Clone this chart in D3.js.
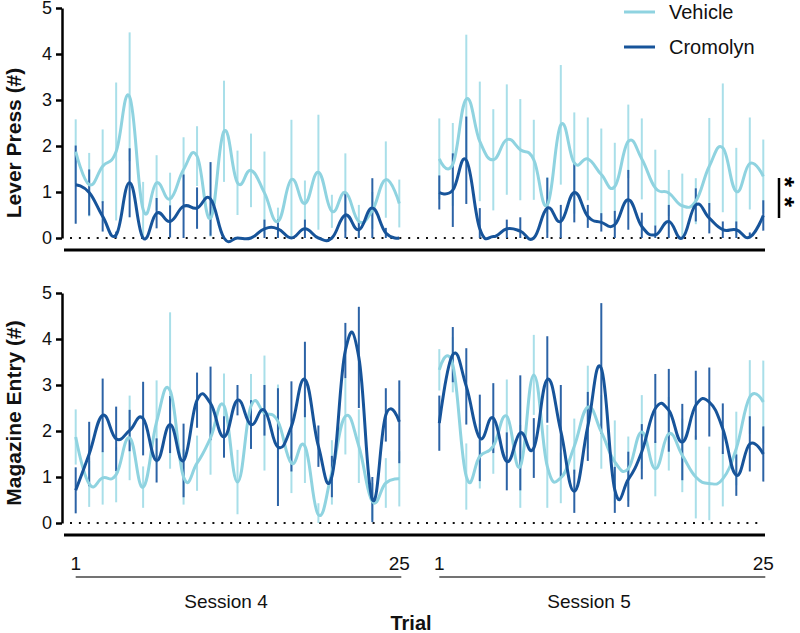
<!DOCTYPE html>
<html><head><meta charset="utf-8">
<script src="https://cdn.jsdelivr.net/npm/d3@7"></script>
<style>body{margin:0;background:#fff} text{font-family:Arial,"Liberation Sans",sans-serif}</style>
</head><body><svg id="c" width="800" height="633"></svg>
<script>
// ---------- data ----------
const trials = d3.range(1, 26);
const sessions = ["Session 4", "Session 5"];
const seriesNames = ["Vehicle", "Cromolyn"];
const yTicks = [0, 1, 2, 3, 4, 5];
const xTickLabels = [1, 25];
const panelTitles = ["Lever Press (#)", "Magazine Entry (#)"];
const xTitle = "Trial";
const sigLabel = "**";

// Lever press
const vehLP4    = [1.88,1.16,1.56,1.88,3.07,0.62,1.2,0.85,1.49,1.78,0.43,2.32,1.2,1.47,0.98,0.36,1.27,0.75,1.43,0.58,0.99,0.36,0.6,1.27,0.75];
const vehLP4err = [0.7,0.69,0.8,1.5,1.4,0.6,0.6,0.57,0.7,0.65,0.4,1.1,0.7,0.8,0.9,0.3,1.3,0.5,1.25,0.36,0.85,0.36,0.4,0.83,0.52];
const croLP4    = [1.16,0.99,0.47,0.07,1.2,0,0.54,0.36,0.69,0.65,0.85,0,0,0,0.2,0.2,0,0.2,0,0,0.5,0.18,0.65,0.11,0];
const croLP4err = [0.85,0.5,0.33,0.07,0.75,0,0.33,0.35,0.69,0.45,0.8,0,0,0,0.2,0.2,0,0.2,0,0,0.5,0.18,0.65,0.11,0];
const vehLP5    = [1.72,1.6,3.02,2.1,1.7,2.14,1.92,1.7,0.72,2.46,1.63,1.72,1.38,1.12,2.1,1.72,1.09,0.98,0.7,0.8,1.56,1.96,1.01,1.62,1.34];
const vehLP5err = [0.88,0.9,1.4,1.3,1.1,1.2,1.1,0.87,0.6,1.3,1.1,0.9,1.0,0.95,0.8,0.88,0.83,0.5,0.7,0.5,1.05,1.4,0.95,1.0,0.8];
const croLP5    = [0.99,1.04,1.69,0.2,0.03,0.2,0.15,0,0.65,0.36,0.99,0.47,0.34,0.29,0.83,0.25,0.07,0.36,0,0.72,0.43,0.18,0.18,0.02,0.49];
const croLP5err = [0.37,0.8,0.95,0.45,0,0.2,0.3,0,0.66,0.36,0.65,0.25,0.2,0.3,0.65,0.3,0.2,0.36,0,0.36,0.33,0.18,0.18,0.1,0.33];

// Magazine entry
const vehME4    = [1.87,0.85,0.98,1.05,1.85,0.78,2.2,2.88,1.0,1.3,1.85,2.55,0.89,2.54,2.39,2.21,1.3,1.67,0.18,1.1,2.32,1.67,0.47,0.87,0.96];
const vehME4err = [0.6,0.5,0.58,0.6,0.92,0.45,0.9,1.7,0.6,0.6,0.8,0.7,0.7,0.7,1.25,0.8,0.65,0.8,0.25,0.7,0.83,0.8,0.4,0.54,0.6];
const croME4    = [0.71,1.5,2.34,1.83,2.01,2.27,1.36,2.14,1.36,2.67,2.6,1.87,2.67,2.14,2.45,1.65,2.1,3.12,1.67,1.01,3.75,3.6,0.51,2.35,2.2];
const croME4err = [0.5,0.7,0.8,0.7,0.45,0.8,0.48,0.62,0.8,0.6,0.8,0.45,0.33,0.53,0.55,1.28,0.98,0.82,0.45,0.45,0.6,1.1,0.49,0.58,0.9];
const vehME5    = [3.33,3.44,1.01,1.45,1.67,2.32,1.23,3.22,1.23,0.98,1.67,2.52,1.98,1.33,1.18,1.98,1.18,1.94,1.47,1.0,0.86,0.96,1.62,2.74,2.63];
const vehME5err = [0.45,0.6,0.72,0.7,0.6,0.8,0.9,0.87,0.9,0.55,0.6,0.9,0.8,0.9,0.7,0.8,0.6,0.8,0.8,0.9,0.8,0.6,0.8,0.8,0.9];
const croME5    = [2.17,3.66,2.97,1.85,2.28,1.34,1.96,1.63,3.12,2.0,0.69,2.1,3.36,0.72,0.95,1.55,2.49,2.45,1.76,2.56,2.63,2.05,1.04,1.72,1.5];
const croME5err = [0.6,0.6,0.83,0.94,0.76,0.63,1.25,0.65,0.94,1.0,0.47,0.75,1.42,0.5,0.6,0.6,0.75,0.9,0.83,0.75,0.75,0.55,0.45,0.6,0.6];

// ---------- styles ----------
const lineColor = {Vehicle: "#8fd3e0", Cromolyn: "#17549a"};
const barColor  = {Vehicle: "#a9dfe9", Cromolyn: "#2c63a6"};

const panels = [
  {title: panelTitles[0], y: d3.scaleLinear().domain([0,5]).range([238, 8]), base: 250, tc: 143,
   data: {Vehicle: [[vehLP4, vehLP4err],[vehLP5, vehLP5err]], Cromolyn: [[croLP4, croLP4err],[croLP5, croLP5err]]}},
  {title: panelTitles[1], y: d3.scaleLinear().domain([0,5]).range([523, 293]), base: 535, tc: 413,
   data: {Vehicle: [[vehME4, vehME4err],[vehME5, vehME5err]], Cromolyn: [[croME4, croME4err],[croME5, croME5err]]}}
];
const xScales = [
  d3.scaleLinear().domain([1,25]).range([75.7, 399.3]),
  d3.scaleLinear().domain([1,25]).range([439.3, 763.3])
];

const svg = d3.select("#c");

panels.forEach((p, pi) => {
  const g = svg.append("g");
  g.append("line").attr("x1", 70).attr("x2", 762).attr("y1", p.y(0)).attr("y2", p.y(0))
    .attr("stroke", "#111").attr("stroke-width", 2).attr("stroke-dasharray", "2,6.9");
  g.append("line").attr("x1", 64).attr("x2", 765).attr("y1", p.base).attr("y2", p.base)
    .attr("stroke", "#000").attr("stroke-width", 3);
  const ax = g.append("g").attr("transform", "translate(62,0)")
    .call(d3.axisLeft(p.y).tickValues(yTicks).tickSize(6).tickSizeOuter(0).tickPadding(4).tickFormat(d3.format("d")));
  ax.select(".domain").attr("stroke-width", 2.5).attr("stroke", "#000");
  ax.selectAll(".tick line").attr("stroke-width", 2.5).attr("stroke", "#000");
  ax.selectAll(".tick text").attr("font-size", 18).attr("fill", "#111").style("font-family", "Arial, 'Liberation Sans', sans-serif");
  g.append("text").attr("transform", `translate(21,${p.tc}) rotate(-90)`).attr("text-anchor", "middle")
    .attr("font-size", 21).attr("font-weight", "bold").attr("fill", "#111").text(p.title);

  seriesNames.forEach(name => {
    sessions.forEach((s, si) => {
      const [vals, errs] = p.data[name][si];
      const x = xScales[si];
      const pts = trials.map((t, i) => ({t, v: vals[i], e: errs[i]}));
      g.append("g").selectAll("line").data(pts).join("line")
        .attr("x1", d => x(d.t)).attr("x2", d => x(d.t))
        .attr("y1", d => p.y(Math.max(0, d.v - d.e))).attr("y2", d => p.y(d.v + d.e))
        .attr("stroke", barColor[name]).attr("stroke-width", 2);
    });
  });
  seriesNames.forEach(name => {
    sessions.forEach((s, si) => {
      const [vals] = p.data[name][si];
      const x = xScales[si];
      const line = d3.line().x((d, i) => x(trials[i])).y(d => p.y(d)).curve(d3.curveCardinal.tension(-0.3));
      g.append("path").attr("d", line(vals)).attr("fill", "none")
        .attr("stroke", lineColor[name]).attr("stroke-width", 3);
    });
  });
});

xScales.forEach((x, si) => {
  xTickLabels.forEach(t => {
    svg.append("text").attr("x", x(t)).attr("y", 570).attr("text-anchor", "middle")
      .attr("font-size", 19).attr("fill", "#111").text(t);
  });
  svg.append("line").attr("x1", x(1)).attr("x2", x(25) + 2).attr("y1", 577).attr("y2", 577)
    .attr("stroke", "#444").attr("stroke-width", 1.6);
});
svg.append("text").attr("x", 226).attr("y", 608).attr("text-anchor", "middle").attr("font-size", 19).attr("fill", "#111").text(sessions[0]);
svg.append("text").attr("x", 589).attr("y", 608).attr("text-anchor", "middle").attr("font-size", 19).attr("fill", "#111").text(sessions[1]);
svg.append("text").attr("x", 411).attr("y", 630).attr("text-anchor", "middle").attr("font-size", 20).attr("font-weight", "bold").attr("fill", "#111").text(xTitle);

seriesNames.forEach((name, i) => {
  const ly = 12 + i * 35;
  svg.append("line").attr("x1", 624).attr("x2", 655).attr("y1", ly).attr("y2", ly)
    .attr("stroke", lineColor[name]).attr("stroke-width", 3);
  svg.append("text").attr("x", 669).attr("y", ly + 7).attr("font-size", 20).attr("fill", "#111").text(name);
});

svg.append("line").attr("x1", 779).attr("x2", 779).attr("y1", 178).attr("y2", 218).attr("stroke", "#000").attr("stroke-width", 2.5);
svg.append("text").attr("transform", "translate(776,197) rotate(90)").attr("text-anchor", "middle")
  .attr("font-size", 26).attr("font-weight", "bold").attr("letter-spacing", 10).attr("fill", "#000").text(sigLabel);
</script></body></html>
